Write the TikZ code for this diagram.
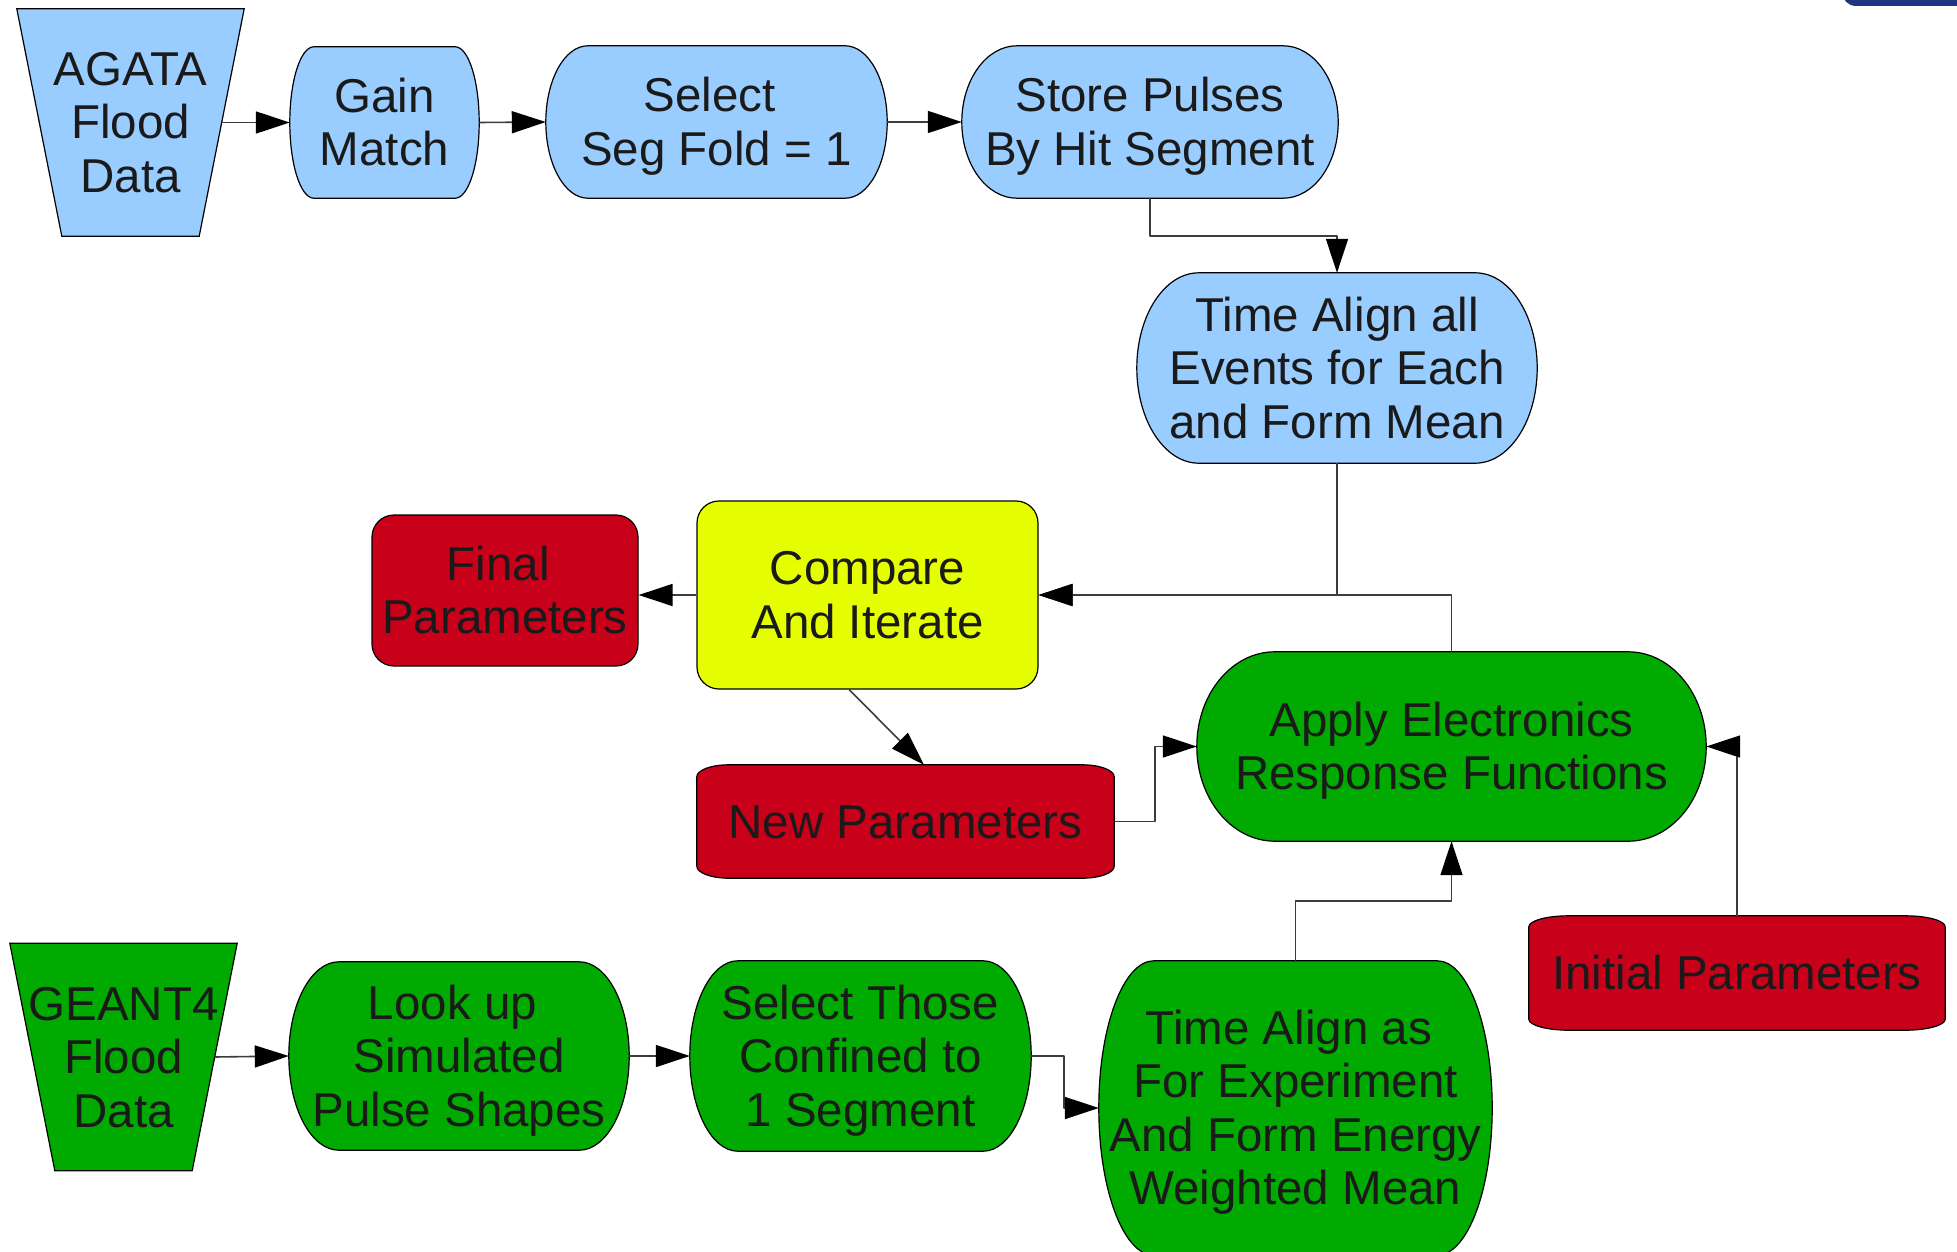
\documentclass[tikz,border=0pt]{standalone}
\usepackage{fontspec}
\setmainfont{Liberation Sans}
\usepackage{tikz}
\definecolor{skyblue}{RGB}{153,204,255}
\definecolor{leaf}{RGB}{0,170,0}
\definecolor{crimson}{RGB}{200,0,26}
\definecolor{lime}{RGB}{230,255,0}
\definecolor{navy}{RGB}{31,53,128}
\definecolor{ink}{RGB}{26,26,26}
\definecolor{wiregray}{RGB}{60,60,60}
\usetikzlibrary{arrows.meta,calc,backgrounds}

% trailing space kept at a wrapped line end
\newcommand{\tsp}{\hspace*{0.278em}}
% full ascent on the first line of a node text
\newcommand{\topstrut}{\rule{0pt}{43pt}}
% outlines drawn behind the named nodes
\newcommand{\bulgebox}[3]{% node, end radius, fill
  \path[outline, fill=#3] let \p1=(#1.north west), \p2=(#1.south east) in
    (\x1+#2,\y1) -- (\x2-#2,\y1)
    arc[start angle=90, end angle=-90, x radius=#2pt, y radius={(\y1-\y2)/2}]
    -- (\x1+#2,\y2)
    arc[start angle=270, end angle=90, x radius=#2pt, y radius={(\y1-\y2)/2}] -- cycle;}
\newcommand{\capbox}[4]{% node, corner x radius, corner y radius, fill
  \path[outline, fill=#4] let \p1=(#1.north west), \p2=(#1.south east) in
    (\x1,\y1-#3) arc[start angle=180, end angle=90, x radius=#2, y radius=#3]
    -- (\x2-#2,\y1) arc[start angle=90, end angle=0, x radius=#2, y radius=#3]
    -- (\x2,\y2+#3) arc[start angle=0, end angle=-90, x radius=#2, y radius=#3]
    -- (\x1+#2,\y2) arc[start angle=270, end angle=180, x radius=#2, y radius=#3] -- cycle;}
\newcommand{\funnelbox}[3]{% node, inset at the bottom, fill
  \path[outline, fill=#3] (#1.north west) -- (#1.north east)
    -- ($(#1.south east)+(-#2,0)$) -- ($(#1.south west)+(#2,0)$) -- cycle;}

\begin{document}
\begin{tikzpicture}[x=1pt, y=1pt, line join=round,
  every node/.style={font=\fontsize{47.5}{53.5}\selectfont, text=ink, align=center, inner sep=0pt,
    execute at end node={\rule[-10pt]{0pt}{10pt}}},
  dims/.style 2 args={minimum width=#1, minimum height=#2},
  outline/.style={draw=black, line width=1.2pt},
  rbox/.style={outline, rounded corners=22},
  wire/.style={draw=wiregray, line width=1.6pt, -{Triangle[length=34pt,width=22pt,color=black]}}]
	\useasboundingbox (0,0) rectangle (1957,-1252);
	\fill[navy, rounded corners=14] (1842,20) rectangle (1990,-6);

	% AGATA branch
	\node[dims={227}{227}] (agata) at (130.5,-122.5) {\topstrut AGATA\\Flood\\Data};
	\node[dims={189}{151}] (gain) at (384.5,-122.5) {\topstrut Gain\\Match};
	\node[dims={341}{152}] (segfold) at (716.5,-122) {\topstrut Select\tsp\\Seg Fold = 1};
	\node[dims={376}{152}] (store) at (1150,-122) {\topstrut Store Pulses\\By Hit Segment};
	\node[dims={400}{190}] (alignall) at (1337,-368) {\topstrut Time Align all\\Events for Each\\and Form Mean};

	% fit loop
	\node[dims={341}{188}, rbox, fill=lime] (compare) at (867.5,-595) {\topstrut Compare\\And Iterate};
	\node[dims={266}{151}, rbox, fill=crimson] (final) at (505,-590.5) {\topstrut Final\tsp\\Parameters};
	\node[dims={417}{113}] (newpar) at (905.5,-821.5) {\topstrut New Parameters};
	\node[dims={509}{189}] (apply) at (1451.5,-746.5) {\topstrut Apply Electronics\\Response Functions};
	\node[dims={416}{114}] (initpar) at (1737,-973) {\topstrut Initial Parameters};

	% GEANT4 branch
	\node[dims={227}{227}] (geant) at (123.5,-1057) {\topstrut GEANT4\\Flood\\Data};
	\node[dims={340}{188}] (lookup) at (459,-1056) {\topstrut Look up\tsp\\Simulated\tsp\\Pulse Shapes};
	\node[dims={341}{190}] (confined) at (860.5,-1056) {\topstrut Select Those\\Confined to\tsp\\1 Segment};
	\node[dims={393}{294}] (alignE) at (1295.5,-1108) {\topstrut Time Align as\tsp\\For Experiment\\And Form Energy\\Weighted Mean};

	\begin{scope}[on background layer]
		\funnelbox{agata}{45}{skyblue}
		\bulgebox{gain}{24}{skyblue}
		\bulgebox{segfold}{42}{skyblue}
		\bulgebox{store}{55}{skyblue}
		\bulgebox{alignall}{62}{skyblue}
		\capbox{newpar}{32}{12}{crimson}
		\bulgebox{apply}{78}{leaf}
		\capbox{initpar}{40}{11}{crimson}
		\funnelbox{geant}{45}{leaf}
		\bulgebox{lookup}{50}{leaf}
		\bulgebox{confined}{48}{leaf}
		\bulgebox{alignE}{55}{leaf}
	\end{scope}

	\coordinate (agataout) at ($(agata.east)+(-22.5,0)$);
	\coordinate (geantout) at ($(geant.east)+(-22.5,0)$);

	\draw[wire] (agataout) -- (gain.west);
	\draw[wire] (gain.east) -- (segfold.west);
	\draw[wire] (segfold.east) -- (store.west);
	\draw[wire] (store.south) -- ++(0,-38) -| (alignall.north);
	\draw[wire] (alignall.south) |- (compare.east);
	\draw[wire] (apply.north) |- (compare.east);
	\draw[wire] (compare.west) -- (compare.west -| final.east);
	\draw[wire] (compare.259) -- (newpar.72);
	\draw[wire] (newpar.east) -- ++(41,0) |- (apply.west);
	\draw[wire] (initpar.north) |- (apply.east);
	\draw[wire] (geantout) -- (lookup.west);
	\draw[wire] (lookup.east) -- (confined.west);
	\draw[wire] (confined.east) -- ++(33,0) |- (alignE.west);
	\draw[wire] (alignE.north) -- ++(0,60) -| (apply.south);
\end{tikzpicture}
\end{document}
